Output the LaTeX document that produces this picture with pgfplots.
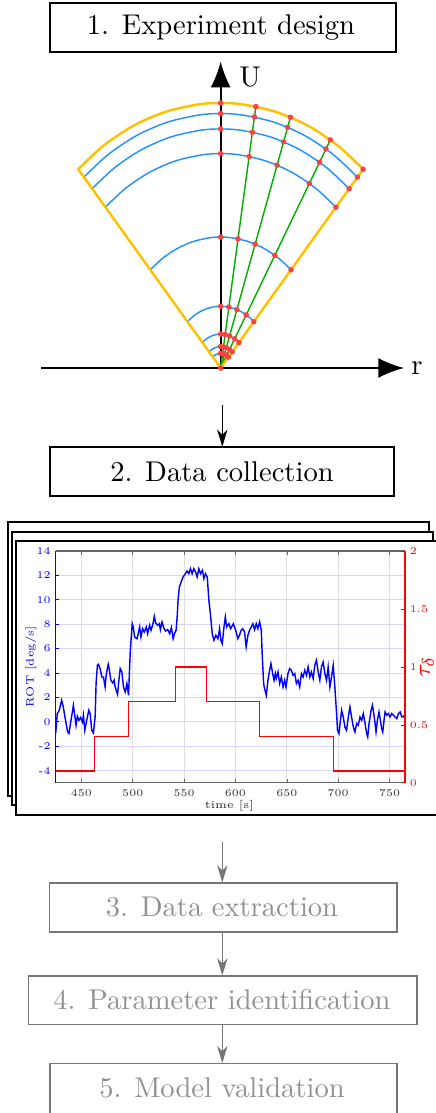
\documentclass[border=0pt]{standalone}
\usepackage{pgfplots}
\pgfplotsset{compat=1.18}
\usetikzlibrary{arrows.meta}

\definecolor{fanyellow}{RGB}{255,192,0}
\definecolor{fanblue}{RGB}{30,144,255}
\definecolor{fangreen}{RGB}{0,175,0}
\definecolor{dotred}{RGB}{255,64,64}
\definecolor{stepline}{RGB}{118,118,118}
\definecolor{steptext}{RGB}{145,145,145}

\begin{document}
\begin{tikzpicture}
\useasboundingbox (0pt,0pt) rectangle (152.25pt,-389.55pt);

% layout in pixel units of the reference (1px = 0.35pt, y down)
\begin{scope}[x=0.35pt,y=-0.35pt]
  \coordinate (fanSW) at (41,368);
  \coordinate (chartSW) at (55.7,782.7);

  \draw[line width=0.5pt] (50,3) rectangle (396,52);
  \node at (221,27.5) {1. Experiment design};

  \draw[line width=0.5pt,-{Stealth[length=6pt,width=3.6pt,inset=1.8pt]}] (222.3,405) -- (222.3,446.8);
  \draw[line width=0.5pt] (50,447) rectangle (394,496);
  \node at (222,471.5) {2. Data collection};

  % stacked pages
  \draw[line width=0.6pt,fill=white] (8.3,521.7) rectangle (429.3,796);
  \draw[line width=0.6pt,fill=white] (12.3,531.7) rectangle (433.3,805);
  \draw[line width=0.6pt,fill=white] (16,541) rectangle (450,815);

  \begin{scope}[stepline,line width=0.55pt]
    \draw[-{Stealth[length=6pt,width=3.6pt,inset=1.8pt]}] (222.3,841.7) -- (222.3,882.5);
    \draw (49.3,882.7) rectangle (396.7,931.7);
    \draw[-{Stealth[length=6pt,width=3.6pt,inset=1.8pt]}] (222.3,931.7) -- (222.3,975.5);
    \draw (28.3,975.7) rectangle (416.7,1024.3);
    \draw[-{Stealth[length=6pt,width=3.6pt,inset=1.8pt]}] (222.3,1024.3) -- (222.3,1063.1);
    \draw (50,1063.3) rectangle (396.7,1116);
  \end{scope}
  \node[steptext] at (222,907.3) {3. Data extraction};
  \node[steptext] at (222,1000) {4. Parameter identification};
  \node[steptext] at (222,1087.5) {5. Model validation};
\end{scope}

% experiment design: operating envelope in the (r, U) plane
\begin{axis}[
  at={(fanSW)}, anchor=south west,
  x=75.39pt, y=92.75pt,
  xmin=-0.834, xmax=0.851, ymin=0, ymax=1.156,
  axis lines=center,
  axis line style={line width=0.6pt,-{Latex[length=9pt,width=7pt]}},
  xtick=\empty, ytick=\empty,
  clip=false,
]
\pgfplotsinvokeforeach{0.96,0.902,0.809,0.494,0.233,0.128,0.081,0.055}{
  \addplot[fanblue,line width=0.5pt,smooth,data cs=polar] coordinates
    {(48.6,#1) (57,#1) (66,#1) (75,#1) (84,#1) (90,#1) (96,#1) (105,#1) (114,#1) (123,#1) (131.4,#1)};
}
\pgfplotsinvokeforeach{80.6,71.1,59.4}{
  \addplot[fangreen,line width=0.5pt,data cs=polar] coordinates {(#1,0) (#1,1)};
}
\addplot[fanyellow,line width=0.85pt,line cap=round,line join=miter,data cs=polar] coordinates
  {(48.6,1) (0,0) (131.4,1)};
\addplot[fanyellow,line width=0.85pt,line cap=round,smooth,data cs=polar] coordinates
  {(48.6,1) (57,1) (66,1) (75,1) (84,1) (90,1) (96,1) (105,1) (114,1) (123,1) (131.4,1)};
\pgfplotsinvokeforeach{1,0.96,0.902,0.809,0.494,0.233,0.128,0.081,0.055}{
  \addplot[only marks,mark=*,mark size=0.75pt,dotred,data cs=polar] coordinates
    {(90,#1) (80.6,#1) (71.1,#1) (59.4,#1) (48.6,#1)};
}
\addplot[only marks,mark=*,mark size=0.75pt,dotred] coordinates {(0,0)};
\end{axis}

% data collection: ROT (left) and rudder input (right)
\begin{axis}[
  at={(chartSW)}, anchor=south west,
  scale only axis, width=122.26pt, height=81.1pt,
  xmin=425, xmax=765, ymin=-5, ymax=14,
  axis y line*=left, axis x line*=box,
  xtick={450,500,...,750},
  xticklabels={450,500,550,600,650,700,750},
  ytick={-4,-2,...,14},
  yticklabels={-4,-2,0,2,4,6,8,10,12,14},
  grid=major,
  x grid style={black!13,line width=0.3pt},
  y grid style={blue!16,line width=0.3pt},
  tick align=inside, major tick length=1.3pt,
  x axis line style={black!60,line width=0.45pt},
  y axis line style={blue,line width=0.45pt},
  x tick style={black!60},
  y tick style={blue},
  ticklabel style={font=\fontsize{3.6}{4}\selectfont},
  xticklabel style={black!80,inner sep=2.1pt},
  yticklabel style={blue,inner sep=1.6pt},
]
\addplot[blue,line width=0.5pt] coordinates {
(425,-0.97) (426.5,0.67) (428.5,0.94) (430.8,1.76) (432.4,1.21) (434.0,0.39) (436.6,-0.84) (437.9,-0.97)
(439.6,-0.02) (441.5,0.94) (442.2,1.35) (443.8,0.39) (444.8,-0.29) (446.1,0.45) (447.7,0.12) (449.3,0.34)
(451.0,-0.02) (452.0,0.53) (453.3,-0.70) (455.2,0.12) (457.2,0.94) (458.5,0.67) (460.1,-0.70) (461.7,-0.92)
(463.4,0.39) (464.3,3.13) (465.6,4.63) (466.6,4.71) (468.2,4.36) (469.9,3.67) (471.5,3.67) (473.1,2.85)
(474.1,3.81) (476.1,4.71) (477.0,4.36) (478.7,3.40) (480.6,3.18) (481.9,3.40) (482.9,2.85) (485.2,2.25)
(486.5,3.40) (487.8,4.36) (489.4,4.08) (491.0,2.85) (492.7,2.44) (494.3,3.13) (495.9,2.17) (497.6,5.86)
(499.5,8.04) (500.5,7.77) (501.8,6.95) (504.1,6.81) (505.0,7.09) (506.7,7.77) (508.0,6.95) (509.6,7.63)
(511.2,7.36) (513.2,7.77) (514.5,7.22) (516.4,7.91) (517.8,7.50) (519.7,8.04) (521.0,8.64) (522.3,8.10)
(524.3,7.91) (525.9,8.04) (526.9,7.55) (528.5,8.18) (530.1,7.72) (531.8,7.44) (534.0,7.55) (536.0,7.22)
(537.6,7.72) (539.3,6.81) (540.6,7.22) (542.2,7.50) (543.2,8.59) (544.1,9.96) (545.4,11.05) (547.1,11.46)
(549.0,11.87) (551.3,12.14) (552.9,12.36) (554.6,12.14) (556.2,12.55) (557.8,12.14) (559.4,12.55) (561.1,12.28)
(562.7,11.87) (564.3,12.55) (566.0,12.14) (567.9,12.42) (569.2,11.73) (570.8,12.14) (572.5,11.87) (574.1,9.96)
(575.7,8.73) (577.4,7.22) (579.0,6.68) (580.9,7.09) (582.9,6.81) (584.5,7.63) (585.8,6.68) (587.1,6.40)
(588.8,7.77) (590.1,8.59) (591.4,7.77) (593.6,8.04) (595.3,7.63) (597.9,8.04) (600.2,7.50) (602.3,6.81)
(603.9,7.09) (605.5,7.50) (607.2,7.63) (608.8,7.36) (610.4,6.13) (612.1,7.09) (613.7,7.50) (615.3,7.77)
(616.9,8.04) (618.6,7.55) (620.2,8.04) (621.8,7.63) (623.5,8.18) (625.1,7.50) (626.1,5.31) (627.4,3.13)
(628.3,2.72) (630.0,2.17) (631.6,3.40) (633.2,4.22) (634.5,4.77) (636.2,3.95) (637.5,3.40) (638.8,3.95)
(639.7,3.54) (641.4,4.08) (643.0,3.13) (644.6,3.67) (646.3,2.85) (647.9,3.40) (649.2,2.85) (651.1,3.95)
(652.8,4.36) (654.4,4.22) (656.0,3.81) (657.7,3.95) (659.3,3.13) (660.9,3.40) (662.5,2.85) (664.2,3.95)
(665.8,3.67) (667.4,4.22) (669.1,3.81) (670.7,4.49) (672.3,3.67) (673.9,4.08) (675.6,3.54) (677.2,4.63)
(678.8,5.04) (680.5,4.08) (682.1,3.40) (683.7,4.49) (685.3,4.90) (687.0,3.95) (688.6,3.40) (690.2,4.49)
(691.9,2.85) (693.5,3.67) (695.1,4.63) (696.7,2.85) (698.4,0.67) (699.3,-0.70) (700.7,-0.97) (702.0,-0.02)
(703.3,0.94) (704.9,0.39) (706.5,-0.43) (708.1,-0.70) (709.8,0.39) (711.4,1.21) (713.0,0.39) (714.7,-0.43)
(716.3,-0.84) (717.9,-0.15) (719.5,-0.29) (721.2,0.39) (722.8,0.12) (724.4,0.67) (726.1,-0.15) (727.7,-0.97)
(728.7,-1.25) (730.0,-0.15) (732.0,0.94) (733.3,1.35) (734.6,0.67) (735.9,-0.15) (736.8,-0.84) (738.1,0.12)
(739.7,0.80) (741.0,0.12) (742.3,-0.56) (743.3,-0.84) (744.6,0.12) (745.6,0.80) (747.2,0.53) (748.8,0.67)
(750.4,0.39) (752.1,0.67) (753.7,0.53) (755.4,0.39) (757.0,0.26) (758.6,0.67) (760.3,0.80) (761.9,0.39)
(763.5,0.39) (765.0,0.67)
};
\end{axis}

\begin{axis}[
  at={(chartSW)}, anchor=south west,
  scale only axis, width=122.26pt, height=81.1pt,
  xmin=425, xmax=765, ymin=0, ymax=2,
  axis y line*=right, axis x line=none,
  ytick={0,0.5,1,1.5,2},
  yticklabels={0,0.5,1,1.5,2},
  tick align=inside, major tick length=1.3pt,
  y axis line style={red,line width=0.45pt},
  y tick style={red},
  yticklabel style={red,font=\fontsize{3.6}{4}\selectfont,inner sep=1.5pt},
]
\addplot[red,line width=0.45pt,const plot] coordinates {
(425,0.1) (463,0.4) (496,0.7) (541.6,1.0) (571.5,0.7) (623.5,0.4) (695.3,0.1) (765,0.1)
};
\end{axis}

\begin{scope}[x=0.35pt,y=-0.35pt]
  \node at (250,77) {U};
  \node at (417,368) {r};
  \node[rotate=90,blue,font=\fontsize{3.8}{4.5}\selectfont] at (31,666.7) {ROT [deg/s]};
  \node[black!85,font=\fontsize{3.8}{4.5}\selectfont] at (229.3,806) {time [s]};
  \node[rotate=90,red,font=\fontsize{8}{9}\selectfont] at (427,666.7) {$\tau_\delta$};
\end{scope}
\end{tikzpicture}
\end{document}
